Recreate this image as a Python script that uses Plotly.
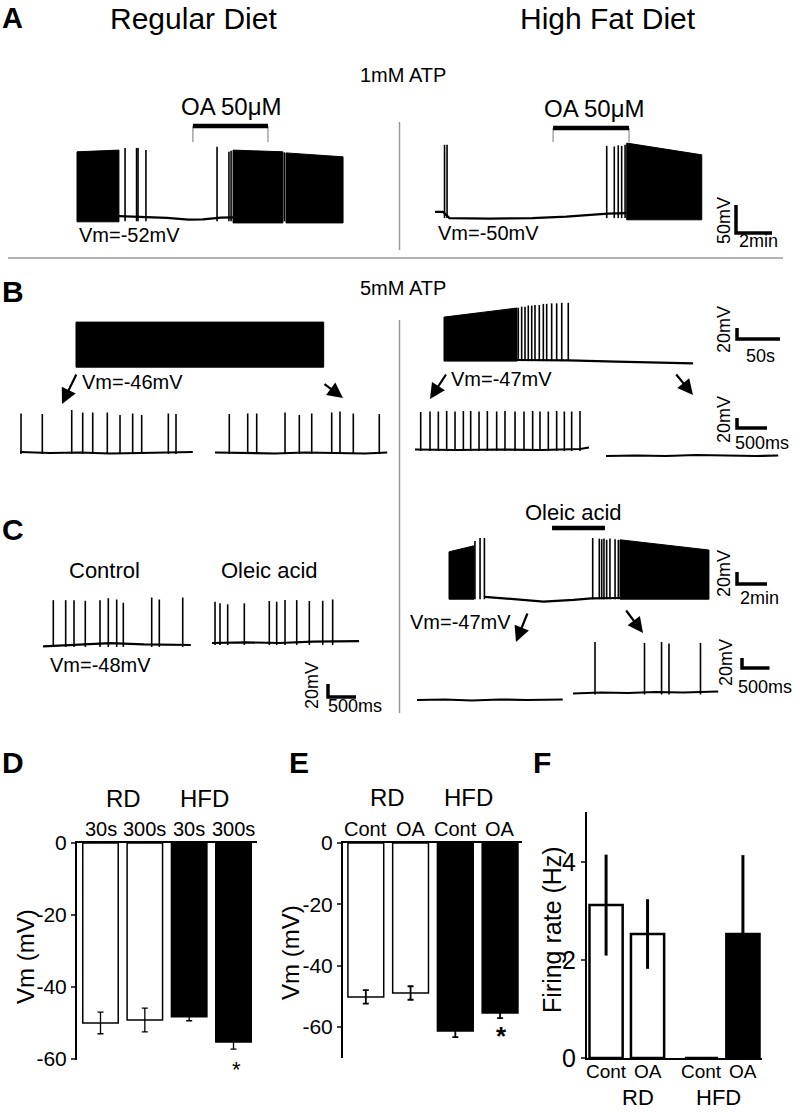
"""Oleic acid and firing of neurons on regular vs high fat diet: traces A-C, summary bars D-F."""

import plotly.graph_objects as go

W, H = 800, 1112
FONT = "Liberation Sans, Arial, Helvetica, sans-serif"

# ---- A: 1 mM ATP (time in min, Vm in mV) ----
# bursts too dense to resolve: (t start, t end, peak at start, peak at end, trough)
A_RD_BLOCKS = [(0.0, 2.33, 68, 71, -57), (8.67, 11.44, 71, 68, -59), (11.61, 14.78, 66, 59, -59)]
A_RD_SPIKE_T = [2.67, 3.31, 3.39, 3.83, 7.78, 8.44, 8.56, 11.52]
A_RD_SPIKE_V = [75, 75, 75, 71, 77, 68, 70, 67]
A_RD_BASE_T = [2.33, 3.5, 5.0, 6.2, 7.0, 8.0, 8.67]
A_RD_BASE_V = [-47, -48, -50, -53, -52.5, -49.5, -49]
A_RD_OA = [6.44, 10.61]

A_HFD_BLOCKS = [(10.65, 14.82, 82, 61, -55)]
A_HFD_SPIKE_T = [0.53, 0.67, 9.54, 9.96, 10.18, 10.37, 10.56]
A_HFD_SPIKE_V = [79, 79, 77, 76, 78, 77, 79]
A_HFD_BASE_T = [0.0, 0.45, 0.8, 3.0, 5.4, 7.3, 9.6, 10.65]
A_HFD_BASE_V = [-41, -41, -52, -53, -52, -49.5, -44, -43]
A_HFD_OA = [6.56, 10.78]

# ---- B: 5 mM ATP (overview in s, expanded sweeps in s) ----
B_RD_TOP_BLOCKS = [(0.0, 288.0, 32, 32, -50)]
B_RD_EARLY_T = [0.017, 0.372, 0.862, 1.045, 1.212, 1.455, 1.667, 1.878, 2.028, 2.472, 2.600]
B_RD_EARLY_V = [33, 32, 40, 35, 35, 35, 30, 33, 30, 33, 32]
B_RD_EARLY_BASE_T = [0.0, 0.5, 1.0, 1.5, 2.0, 2.5, 2.88]
B_RD_EARLY_BASE_V = [-44, -46, -45, -47, -46, -45, -44]
B_RD_LATE_T = [0.238, 0.545, 0.695, 1.167, 1.405, 1.612, 1.945, 2.083, 2.305, 2.738]
B_RD_LATE_V = [32, 33, 33, 35, 30, 33, 35, 37, 33, 32]
B_RD_LATE_BASE_T = [0.0, 0.5, 1.0, 1.5, 2.0, 2.5, 2.87]
B_RD_LATE_BASE_V = [-45, -46, -47, -45, -46, -47, -45]

B_HFD_TOP_BLOCKS = [(0.0, 84.9, 31, 47.5, -49)]
B_HFD_TOP_T = [86.4, 90.3, 94.2, 98.0, 102.0, 105.8, 110.8, 115.5, 119.4, 125.2, 131.0, 136.9, 144.5]
B_HFD_TOP_V = [48, 50, 50, 52, 52, 53, 53, 55, 55, 56, 56, 57, 57]
B_HFD_TOP_BASE_T = [84.9, 145, 200, 250, 289.5]
B_HFD_TOP_BASE_V = [-47, -47.5, -50, -51, -53]
B_HFD_EARLY_T = [0.095, 0.25, 0.389, 0.528, 0.667, 0.806, 0.928, 1.067, 1.206, 1.361,
                 1.5, 1.667, 1.817, 1.961, 2.083, 2.222, 2.361, 2.489, 2.611, 2.75]
B_HFD_EARLY_V = [29, 30, 30, 31, 30, 31, 31, 30, 31, 30, 31, 30, 30, 31, 30, 30, 31, 30, 30, 31]
B_HFD_EARLY_BASE_T = [0.0, 0.7, 1.4, 2.1, 2.75, 2.9]
B_HFD_EARLY_BASE_V = [-46, -47, -46, -47, -45, -42]
B_HFD_LATE_BASE_T = [0.0, 0.5, 1.0, 1.5, 2.0, 2.5, 2.87]
B_HFD_LATE_BASE_V = [-59, -58, -59, -57, -58, -59, -58]

# ---- C: oleic acid ----
C_CTRL_T = [0.184, 0.405, 0.554, 0.755, 1.018, 1.166, 1.316, 1.434, 1.941, 2.077, 2.495]
C_CTRL_V = [21, 21, 21, 20, 21, 24, 22, 17, 25, 22, 25]
C_CTRL_BASE_T = [0.0, 0.6, 1.2, 1.8, 2.64]
C_CTRL_BASE_V = [-50, -48, -45, -47, -48]
C_OA_T = [0.054, 0.143, 0.28, 0.577, 1.023, 1.155, 1.304, 1.513, 1.738, 1.977, 2.155]
C_OA_V = [15.5, 13, 11.5, 13, 16.6, 15.5, 18, 18, 16.6, 17, 19]
C_OA_BASE_T = [0.0, 0.6, 1.2, 1.8, 2.625]
C_OA_BASE_V = [-48, -47, -48, -46, -45]

C_HFD_TOP_BLOCKS = [(0.0, 1.67, 30, 40, -49), (11.4, 17.33, 50, 33, -49)]
C_HFD_TOP_T = [1.73, 2.07, 2.36, 9.58, 10.02, 10.18, 10.33, 10.51, 10.73, 11.07, 11.29]
C_HFD_TOP_V = [48, 53, 53, 53, 52, 51, 52, 50, 52, 51, 50]
C_HFD_TOP_BASE_T = [2.36, 4.5, 6.3, 8.3, 9.5, 11.4]
C_HFD_TOP_BASE_V = [-45, -50, -53, -50, -47.5, -47]
C_HFD_OA = [6.87, 10.4]
C_HFD_EARLY_BASE_T = [0.0, 0.5, 1.0, 1.5, 2.0, 2.65]
C_HFD_EARLY_BASE_V = [-47, -46, -48, -46, -47, -46]
C_HFD_LATE_T = [0.4, 1.3, 1.61, 1.745, 2.318]
C_HFD_LATE_V = [55, 53, 55, 52, 53]
C_HFD_LATE_BASE_T = [0.0, 0.5, 1.0, 1.5, 2.0, 2.64]
C_HFD_LATE_BASE_V = [-48, -46, -47, -45, -46, -44]

# ---- D-F: summary ----
GROUP = ["RD", "RD", "HFD", "HFD"]
D_LABELS = ["30s", "300s", "30s", "300s"]
D_VM = [-50.0, -49.2, -48.3, -55.3]
D_SEM = [3.0, 3.3, 1.1, 2.0]
E_LABELS = ["Cont", "OA", "Cont", "OA"]
E_VM = [-50.2, -48.9, -61.3, -55.4]
E_SEM = [2.2, 2.2, 2.0, 1.7]
F_LABELS = ["Cont", "OA", "Cont", "OA"]
F_RATE = [3.12, 2.53, 0.0, 2.53]
F_SEM = [1.03, 0.71, 0.0, 1.61]

fig = go.Figure()
AXES = {}


def axis_ref(n):
    s = "" if n == 1 else str(n)
    return "x" + s, "y" + s


def place_axis(n, box, origin, scale, vref):
    """Hidden axes: time 0 / vref sit at pixel origin, scale in px per unit."""
    left, top, right, bottom = box
    x0, y0 = origin
    sx, sy = scale
    s = "" if n == 1 else str(n)
    xa, ya = axis_ref(n)
    fig.update_layout({
        "xaxis" + s: dict(domain=[left / W, right / W], range=[(left - x0) / sx, (right - x0) / sx],
                          anchor=ya, visible=False, fixedrange=True, automargin=False),
        "yaxis" + s: dict(domain=[1 - bottom / H, 1 - top / H],
                          range=[vref - (bottom - y0) / sy, vref + (y0 - top) / sy],
                          anchor=xa, visible=False, fixedrange=True, automargin=False),
    })
    AXES[n] = (x0, y0, sx, sy, vref)


def to_units(n, px, py):
    x0, y0, sx, sy, vref = AXES[n]
    return (px - x0) / sx, vref + (y0 - py) / sy


def segments(n, xs, ys, width, color="black"):
    xa, ya = axis_ref(n)
    fig.add_trace(go.Scatter(x=xs, y=ys, mode="lines", line=dict(color=color, width=width),
                             xaxis=xa, yaxis=ya, hoverinfo="skip"))


def draw_ephys(n, blocks=(), spike_t=(), spike_v=(), foot=None, base_t=(), base_v=()):
    xa, ya = axis_ref(n)
    for t0, t1, p0, p1, trough in blocks:
        fig.add_trace(go.Scatter(x=[t0, t0, t1, t1, t0], y=[trough, p0, p1, trough, trough],
                                 mode="lines", fill="toself", fillcolor="black",
                                 line=dict(color="black", width=1), xaxis=xa, yaxis=ya,
                                 hoverinfo="skip"))
    if base_t:
        segments(n, list(base_t), list(base_v), 2.2)
    xs, ys = [], []
    for t, v in zip(spike_t, spike_v):
        xs += [t, t, None]
        ys += [foot, v, None]
    if xs:
        segments(n, xs, ys, 1.6)


def note(text, x, y, size, **kw):
    kw.setdefault("xanchor", "center")
    kw.setdefault("yanchor", "middle")
    fig.add_annotation(text=text, x=x / W, y=1 - y / H, xref="paper", yref="paper",
                       showarrow=False, font=dict(size=size, color="black", family=FONT), **kw)


def scale_bar(n, corner, dx, dy, ylab, ylab_xy, xlab, xlab_xy):
    t, v = to_units(n, *corner)
    segments(n, [t, t, t + dx], [v + dy, v, v], 3.5)
    note(ylab, *ylab_xy, 18, textangle=-90)
    note(xlab, *xlab_xy, 18)


def drug_bar(n, span, bar_py, drop_py=None):
    _, vb = to_units(n, 0, bar_py)
    if drop_py:
        _, vd = to_units(n, 0, drop_py)
        segments(n, [span[0], span[0], None, span[1], span[1]], [vb, vd, None, vb, vd], 1, "#777")
    segments(n, list(span), [vb, vb], 4.5)


def arrow(tail, head):
    fig.add_annotation(x=head[0] / W, y=1 - head[1] / H, xref="paper", yref="paper",
                       ax=tail[0] - head[0], ay=tail[1] - head[1], text="", showarrow=True,
                       arrowhead=2, arrowsize=1.4, arrowwidth=2.2, arrowcolor="black")


# A
place_axis(1, (70, 100, 360, 240), (77, 219), (18, 0.56), -52)
draw_ephys(1, A_RD_BLOCKS, A_RD_SPIKE_T, A_RD_SPIKE_V, -56, A_RD_BASE_T, A_RD_BASE_V)
drug_bar(1, A_RD_OA, 126, 142)
place_axis(2, (428, 100, 790, 240), (435, 217), (18, 0.56), -50)
draw_ephys(2, A_HFD_BLOCKS, A_HFD_SPIKE_T, A_HFD_SPIKE_V, -52, A_HFD_BASE_T, A_HFD_BASE_V)
drug_bar(2, A_HFD_OA, 128, 142)
scale_bar(2, (736, 233), 2, 50, "50mV", (724, 221), "2min", (758, 241))

# B
place_axis(3, (70, 300, 340, 375), (76, 365), (0.86, 0.55), -46)
draw_ephys(3, B_RD_TOP_BLOCKS)
place_axis(4, (15, 400, 200, 465), (20, 453), (60, 0.5), -46)
draw_ephys(4, (), B_RD_EARLY_T, B_RD_EARLY_V, -48, B_RD_EARLY_BASE_T, B_RD_EARLY_BASE_V)
place_axis(5, (210, 400, 395, 465), (215, 453), (60, 0.5), -46)
draw_ephys(5, (), B_RD_LATE_T, B_RD_LATE_V, -48, B_RD_LATE_BASE_T, B_RD_LATE_BASE_V)
place_axis(6, (438, 295, 790, 375), (444, 360), (0.86, 0.55), -47)
draw_ephys(6, B_HFD_TOP_BLOCKS, B_HFD_TOP_T, B_HFD_TOP_V, -49, B_HFD_TOP_BASE_T, B_HFD_TOP_BASE_V)
scale_bar(6, (737, 339), 50, 20, "20mV", (724, 330), "50s", (760, 356))
place_axis(7, (410, 400, 595, 465), (415, 450), (60, 0.5), -47)
draw_ephys(7, (), B_HFD_EARLY_T, B_HFD_EARLY_V, -49, B_HFD_EARLY_BASE_T, B_HFD_EARLY_BASE_V)
place_axis(8, (600, 400, 790, 465), (606, 450), (60, 0.5), -47)
draw_ephys(8, base_t=B_HFD_LATE_BASE_T, base_v=B_HFD_LATE_BASE_V)
scale_bar(8, (737, 428), 0.5, 20, "20mV", (724, 420), "500ms", (762, 443))

# C
place_axis(9, (38, 585, 200, 655), (43, 645), (56, 0.65), -48)
draw_ephys(9, (), C_CTRL_T, C_CTRL_V, -51, C_CTRL_BASE_T, C_CTRL_BASE_V)
place_axis(10, (205, 585, 365, 705), (212, 643), (56, 0.65), -48)
draw_ephys(10, (), C_OA_T, C_OA_V, -51, C_OA_BASE_T, C_OA_BASE_V)
scale_bar(10, (328, 697), 0.5, 20, "20mV", (312, 686), "500ms", (355, 706))
place_axis(11, (443, 520, 790, 605), (449, 598), (15, 0.6), -47)
draw_ephys(11, C_HFD_TOP_BLOCKS, C_HFD_TOP_T, C_HFD_TOP_V, -49, C_HFD_TOP_BASE_T, C_HFD_TOP_BASE_V)
drug_bar(11, C_HFD_OA, 528)
scale_bar(11, (737, 584), 2, 20, "20mV", (724, 574), "2min", (759, 598))
place_axis(12, (412, 680, 568, 710), (417, 700), (55, 0.5), -47)
draw_ephys(12, base_t=C_HFD_EARLY_BASE_T, base_v=C_HFD_EARLY_BASE_V)
place_axis(13, (568, 630, 790, 705), (573, 693), (55, 0.5), -47)
draw_ephys(13, (), C_HFD_LATE_T, C_HFD_LATE_V, -50, C_HFD_LATE_BASE_T, C_HFD_LATE_BASE_V)
scale_bar(13, (742, 668), 0.5, 20, "20mV", (726, 663), "500ms", (765, 687))


# D-F bar charts
def bar_panel(n, pos, vals, errs, labels, xdom, ydom, xr, yr, yticks, side, outline, ethick, ecap, tsize):
    xa, ya = axis_ref(n)
    fig.add_trace(go.Bar(x=pos, y=vals, width=0.8, xaxis=xa, yaxis=ya, hoverinfo="skip",
                         marker=dict(color=["white" if g == "RD" else "black" for g in GROUP],
                                     line=dict(color="black", width=outline)),
                         error_y=dict(type="data", array=errs, color="black",
                                      thickness=ethick, width=ecap)))
    line = dict(showline=True, linecolor="black", linewidth=2, showgrid=False, zeroline=False,
                fixedrange=True, automargin=False)
    fig.update_layout({
        "xaxis" + str(n): dict(domain=[xdom[0] / W, xdom[1] / W], range=xr, anchor=ya, side=side,
                               tickvals=pos, ticks="", showticklabels=False, **line),
        "yaxis" + str(n): dict(domain=[1 - ydom[1] / H, 1 - ydom[0] / H], range=yr, anchor=xa,
                               tickvals=yticks, ticktext=[str(v) for v in yticks],
                               ticks="outside", ticklen=4, tickwidth=2,
                               tickfont=dict(size=tsize, family=FONT, color="black"), **line),
    })
    # condition labels hug the axis line (above it for D/E, below it for F)
    edge = ydom[0] - 1 if side == "top" else ydom[1] + 1
    for p, lab in zip(pos, labels):
        fig.add_annotation(text=lab, x=p, xref=xa, y=1 - edge / H, yref="paper",
                           yanchor="bottom" if side == "top" else "top", showarrow=False,
                           font=dict(size=20 if side == "top" else 19, family=FONT, color="black"))


bar_panel(14, [0, 1, 2, 3], D_VM, D_SEM, D_LABELS, (77, 257), (843, 1060), [-0.53, 3.53],
          [-60.3, 0], [0, -20, -40, -60], "top", 1.5, 1.3, 3, 21)
bar_panel(15, [0, 1, 2, 3], E_VM, E_SEM, E_LABELS, (343, 522), (843, 1058), [-0.51, 3.49],
          [-70.1, 0], [0, -20, -40, -60], "top", 1.5, 1.8, 3, 21)
F_POS = [i + 0.3 * (i // 2) for i in range(4)]
bar_panel(16, F_POS, F_RATE, F_SEM, F_LABELS, (587, 762), (812, 1058), [-0.46, 3.76],
          [0, 5.02], [0, 2, 4], "bottom", 2.5, 3, 0, 25)

# text
note("<b>A</b>", 0, 0, 29, xanchor="left", yanchor="top")
for letter, x, y in [("B", 0, 291), ("C", 0, 530), ("D", 0, 762), ("E", 287, 762), ("F", 531, 762)]:
    note(f"<b>{letter}</b>", x, y, 30, xanchor="left")
note("Regular Diet", 193, 0, 30, yanchor="top")
note("High Fat Diet", 608, 0, 30, yanchor="top")
note("1mM ATP", 403, 75, 20)
note("5mM ATP", 403, 288, 20)
note("OA 50μM", 231, 107, 24)
note("OA 50μM", 594, 108, 24)
note("Vm=-52mV", 77, 235, 20, xanchor="left")
note("Vm=-50mV", 436, 233, 20, xanchor="left")
note("Vm=-46mV", 80, 382, 20, xanchor="left")
note("Vm=-47mV", 449, 379, 20, xanchor="left")
note("Control", 104, 570, 22)
note("Oleic acid", 269, 570, 22)
note("Vm=-48mV", 48, 665, 20, xanchor="left")
note("Oleic acid", 573, 512, 22)
note("Vm=-47mV", 408, 622, 20, xanchor="left")
arrow((77, 373), (62, 404))
arrow((323, 383), (343, 398))
arrow((447, 373), (430, 399))
arrow((675, 373), (693, 395))
arrow((528, 612), (516, 642))
arrow((625, 609), (643, 633))

note("RD", 123, 798, 24)
note("HFD", 205, 798, 24)
note("RD", 387, 797, 24)
note("HFD", 468, 797, 24)
note("RD", 638, 1112, 22, yanchor="bottom")
note("HFD", 718, 1112, 22, yanchor="bottom")
note("Vm (mV)", 25, 957, 24, textangle=-90)
note("Vm (mV)", 290, 953, 24, textangle=-90)
note("Firing rate (Hz)", 552, 930, 25, textangle=-90)
note("*", 236, 1069, 22)
note("<b>*</b>", 501, 1036, 26)

sep = dict(type="line", xref="paper", yref="paper", line=dict(color="#999", width=1.5))
fig.add_shape(x0=399.5 / W, x1=399.5 / W, y0=1 - 122 / H, y1=1 - 250 / H, **sep)
fig.add_shape(x0=8 / W, x1=783 / W, y0=1 - 258 / H, y1=1 - 258 / H, **sep)
fig.add_shape(x0=399.5 / W, x1=399.5 / W, y0=1 - 320 / H, y1=1 - 713 / H, **sep)

fig.update_layout(width=W, height=H, margin=dict(l=0, r=0, t=0, b=0, pad=0), showlegend=False,
                  paper_bgcolor="white", plot_bgcolor="rgba(0,0,0,0)",
                  font=dict(family=FONT, color="black"))
# the page's default 8px body margin would push the 800x1112 figure off the window
fig.write_html("out.html", config={"displayModeBar": False},
               post_script="document.body.style.margin = '0px';")
